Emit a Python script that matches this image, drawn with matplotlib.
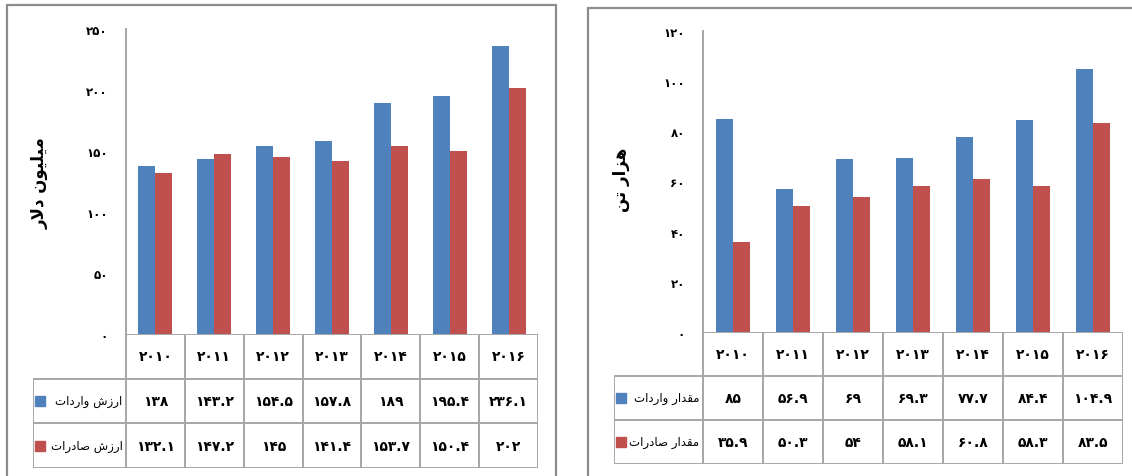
import matplotlib
matplotlib.use("Agg")
import matplotlib.pyplot as plt
from matplotlib.patches import Rectangle

plt.rcParams["font.family"] = ["DejaVu Sans"]

years = ["2010", "2011", "2012", "2013", "2014", "2015", "2016"]

# value of trade, million dollars
value_imports = [138, 143.2, 154.5, 157.8, 189, 195.4, 236.1]
value_exports = [132.1, 147.2, 145, 141.4, 153.7, 150.4, 202]

# quantity of trade, thousand tonnes
qty_imports = [85, 56.9, 69, 69.3, 77.7, 84.4, 104.9]
qty_exports = [35.9, 50.3, 54, 58.1, 60.8, 58.3, 83.5]

value_labels = ["ارزش واردات", "ارزش صادرات"]
qty_labels = ["مقدار واردات", "مقدار صادرات"]
value_unit = "میلیون دلار"
qty_unit = "هزار تن"

BLUE = "#4F81BD"
RED = "#C0504D"
GRID = "#a6a6a6"

W, H = 1132, 477

FA_DIGITS = str.maketrans("0123456789", "۰۱۲۳۴۵۶۷۸۹")

# presentation forms: isolated, final[, initial, medial]
FORMS = {
    "ا": ("\uFE8D", "\uFE8E"),
    "د": ("\uFEA9", "\uFEAA"),
    "ر": ("\uFEAD", "\uFEAE"),
    "ز": ("\uFEAF", "\uFEB0"),
    "و": ("\uFEED", "\uFEEE"),
    "ت": ("\uFE95", "\uFE96", "\uFE97", "\uFE98"),
    "ش": ("\uFEB5", "\uFEB6", "\uFEB7", "\uFEB8"),
    "ص": ("\uFEB9", "\uFEBA", "\uFEBB", "\uFEBC"),
    "ق": ("\uFED5", "\uFED6", "\uFED7", "\uFED8"),
    "ل": ("\uFEDD", "\uFEDE", "\uFEDF", "\uFEE0"),
    "م": ("\uFEE1", "\uFEE2", "\uFEE3", "\uFEE4"),
    "ن": ("\uFEE5", "\uFEE6", "\uFEE7", "\uFEE8"),
    "ه": ("\uFEE9", "\uFEEA", "\uFEEB", "\uFEEC"),
    "ی": ("\uFBFC", "\uFBFD", "\uFEF3", "\uFEF4"),
}


def shape(text):
    """Join Persian letters into their contextual forms and lay them out RTL."""
    out = []
    i = 0
    while i < len(text):
        c = text[i]
        if c not in FORMS:
            out.append(c)
            i += 1
            continue
        prev = text[i - 1] if i > 0 else None
        nxt = text[i + 1] if i + 1 < len(text) else None
        joins_prev = prev in FORMS and len(FORMS[prev]) == 4
        if c == "ل" and nxt == "ا":
            out.append("\uFEFC" if joins_prev else "\uFEFB")
            i += 2
            continue
        forms = FORMS[c]
        joins_next = len(forms) == 4 and nxt in FORMS
        if joins_prev and joins_next:
            out.append(forms[3])
        elif joins_prev:
            out.append(forms[1])
        elif joins_next:
            out.append(forms[2])
        else:
            out.append(forms[0])
        i += 1
    return "".join(reversed(out))


def fa(v):
    return f"{v:g}".translate(FA_DIGITS)


def box(left, top, right, bottom):
    return [left / W, 1 - bottom / H, (right - left) / W, (bottom - top) / H]


def panel(fig, plot_px, table_bottom, legend_left, frame_px, ymax, ystep,
          unit, unit_x, unit_y, series, labels):
    left, top, right, bottom = plot_px
    n = len(years)

    # chart area frame
    fl, ft, fr, fb = frame_px
    fig.add_artist(Rectangle((fl / W, 1 - fb / H), (fr - fl) / W, (fb - ft) / H,
                             transform=fig.transFigure, fill=False,
                             edgecolor="#8c8c8c", linewidth=1.6))

    ax = fig.add_axes(box(left, top, right, bottom))
    x = list(range(n))
    bw = 0.29
    ax.bar([i - bw / 2 for i in x], series[0], width=bw, color=BLUE)
    ax.bar([i + bw / 2 for i in x], series[1], width=bw, color=RED)
    ax.set_xlim(-0.5, n - 0.5)
    ax.set_ylim(0, ymax)
    ticks = list(range(0, ymax + 1, ystep))
    ax.set_yticks(ticks)
    ax.set_yticklabels([fa(t) for t in ticks], fontsize=8.5, fontweight="bold")
    ax.tick_params(axis="y", length=0, pad=13)
    ax.set_xticks([])
    for s in ("top", "right", "bottom"):
        ax.spines[s].set_visible(False)
    ax.spines["left"].set_color(GRID)
    ax.spines["left"].set_linewidth(1.4)

    fig.text(unit_x / W, 1 - unit_y / H, shape(unit), rotation=90,
             ha="center", va="center", fontsize=12, fontweight="bold")

    # data table under the plot, columns aligned with the categories
    colw = (right - left) / n
    extra = (left - legend_left) / colw
    tab = fig.add_axes(box(legend_left, bottom, right, table_bottom))
    tab.set_xlim(-0.5 - extra, n - 0.5)
    tab.set_ylim(3, 0)
    tab.axis("off")
    kw = dict(color=GRID, linewidth=1.4, solid_capstyle="butt")
    tab.plot([-0.5, n - 0.5], [0, 0], **kw)
    for r in (1, 2, 3):
        tab.plot([-0.5 - extra, n - 0.5], [r, r], **kw)
    for c in range(n + 1):
        tab.plot([c - 0.5, c - 0.5], [0, 3], **kw)
    tab.plot([-0.5 - extra, -0.5 - extra], [1, 3], **kw)

    for i, yr in enumerate(years):
        tab.text(i, 0.5, yr.translate(FA_DIGITS), ha="center", va="center",
                 fontsize=10, fontweight="bold")
        for r, vals in enumerate(series, start=1):
            tab.text(i, r + 0.5, fa(vals[i]), ha="center", va="center",
                     fontsize=10, fontweight="bold")

    for r, (lab, col) in enumerate(zip(labels, (BLUE, RED)), start=1):
        tab.plot([-0.5 - extra + 0.12], [r + 0.5], marker="s", markersize=7.5,
                 color=col, linestyle="none")
        tab.text(-0.5 - 0.06, r + 0.5, shape(lab), ha="right", va="center",
                 fontsize=8.5)
    return ax


fig = plt.figure(figsize=(W / 100, H / 100), dpi=100)

panel(fig, (126, 30, 538, 335), 469, 33, (7, 6, 556, 500), 250, 50,
      value_unit, 40, 183, (value_imports, value_exports), value_labels)
panel(fig, (703, 32, 1123, 333), 465, 614, (588, 9, 1150, 500), 120, 20,
      qty_unit, 621, 180, (qty_imports, qty_exports), qty_labels)

fig.savefig("out.png", dpi=100)
